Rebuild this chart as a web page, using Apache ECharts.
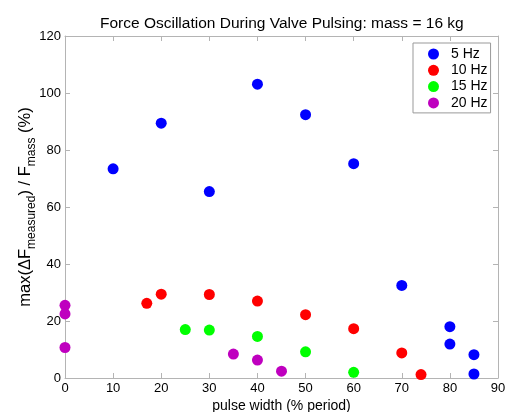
<!DOCTYPE html>
<html>
<head>
<meta charset="utf-8">
<script src="https://cdn.jsdelivr.net/npm/echarts@6/dist/echarts.min.js"></script>
<style>
  html, body { margin: 0; padding: 0; background: #fff; }
  #chart { width: 506px; height: 412px; }
</style>
</head>
<body>
<div id="chart"></div>
<script>
// pulse width (% period) / max force oscillation (%) per pulsing frequency
var hz5x = [10, 20, 30, 40, 50, 60, 70, 80, 80, 85, 85];
var hz5y = [73.4, 89.4, 65.4, 103.1, 92.4, 75.2, 32.5, 18.0, 11.9, 8.2, 1.4];
var hz10x = [17, 20, 30, 40, 50, 60, 70, 74];
var hz10y = [26.2, 29.4, 29.3, 27.0, 22.2, 17.3, 8.8, 1.2];
var hz15x = [25, 30, 40, 50, 60];
var hz15y = [17.0, 16.8, 14.6, 9.2, 2.0];
var hz20x = [0, 0, 0, 35, 40, 45];
var hz20y = [25.5, 22.5, 10.7, 8.4, 6.3, 2.4];

var seriesNames = ["5 Hz", "10 Hz", "15 Hz", "20 Hz"];
var seriesColors = ["#0000ff", "#ff0000", "#00ff00", "#bf00bf"];

function pairs(xs, ys) {
  return xs.map(function (x, i) { return [x, ys[i]]; });
}
var allData = [pairs(hz5x, hz5y), pairs(hz10x, hz10y), pairs(hz15x, hz15y), pairs(hz20x, hz20y)];

var axisGray = "#b4b4b4";
var font = "Liberation Sans, Arial, sans-serif";

function xAx(pos, labels) {
  return {
    type: "value", position: pos, min: 0, max: 90, interval: 10,
    axisLine: { show: true, onZero: false, lineStyle: { color: axisGray, width: 1 } },
    axisTick: { show: true, inside: true, length: 5, lineStyle: { color: axisGray } },
    axisLabel: { show: labels, color: "#000", fontSize: 13, fontFamily: font, margin: 4 },
    splitLine: { show: false }
  };
}
function yAx(pos, labels) {
  return {
    type: "value", position: pos, min: 0, max: 120, interval: 20,
    axisLine: { show: true, onZero: false, lineStyle: { color: axisGray, width: 1 } },
    axisTick: { show: true, inside: true, length: 5, lineStyle: { color: axisGray } },
    axisLabel: { show: labels, color: "#000", fontSize: 13, fontFamily: font, margin: 4 },
    splitLine: { show: false }
  };
}

var xMain = xAx("bottom", true);
xMain.name = "pulse width (% period)";
xMain.nameLocation = "middle";
xMain.nameGap = 21;
xMain.nameMoveOverlap = false;
xMain.nameTextStyle = { color: "#000", fontSize: 14, fontFamily: font };

var yMain = yAx("left", true);
yMain.name = "{a|max(ΔF}{s|measured}{a|) / F}{s|mass}{a| (%)}";
yMain.nameLocation = "middle";
yMain.nameRotate = 90;
yMain.nameGap = 18;
yMain.nameMoveOverlap = false;
yMain.nameTextStyle = {
  color: "#000",
  fontFamily: font,
  rich: {
    a: { fontSize: 16.5, fontFamily: font, color: "#000", lineHeight: 18, verticalAlign: "top" },
    s: { fontSize: 12, fontFamily: font, color: "#000", lineHeight: 30, verticalAlign: "middle" }
  }
};

var chart = echarts.init(document.getElementById("chart"));
chart.setOption({
  backgroundColor: "#fff",
  animation: false,
  title: {
    text: "Force Oscillation During Valve Pulsing: mass = 16 kg",
    left: 95, top: 11,
    textStyle: { color: "#000", fontSize: 15.5, fontWeight: "normal", fontFamily: font }
  },
  grid: { left: 65, right: 8, top: 36, bottom: 34, outerBoundsMode: "none" },
  xAxis: [xMain, xAx("top", false)],
  yAxis: [yMain, yAx("right", false)],
  legend: {
    orient: "vertical",
    left: 413, top: 43,
    padding: [4, 3, 3, 15],
    itemGap: 2.3,
    itemWidth: 11, itemHeight: 11,
    icon: "circle",
    backgroundColor: "#fff",
    borderColor: "#999",
    borderWidth: 1,
    borderRadius: 0,
    textStyle: { color: "#000", fontSize: 14, fontFamily: font, padding: [0, 0, 0, 7] },
    data: seriesNames
  },
  series: seriesNames.map(function (name, i) {
    return {
      name: name, type: "scatter", xAxisIndex: 0, yAxisIndex: 0,
      symbol: "circle", symbolSize: 11, clip: false,
      itemStyle: { color: seriesColors[i], opacity: 1 },
      data: allData[i]
    };
  })
});
</script>
</body>
</html>
